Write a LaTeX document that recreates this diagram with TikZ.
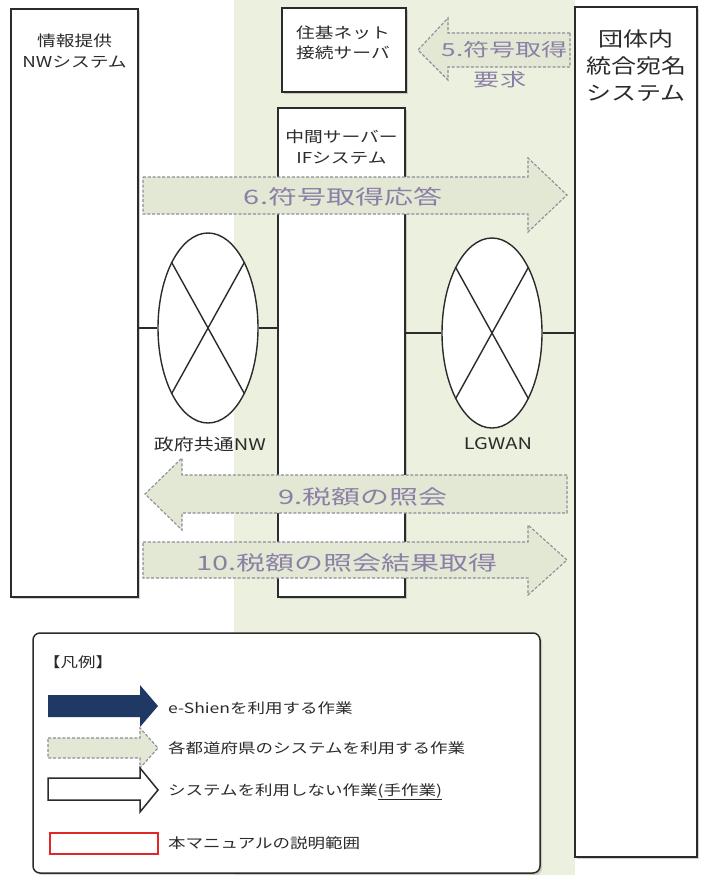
\documentclass[tikz,border=0pt]{standalone}
\usepackage{fontspec}
\newfontfamily\jp[FakeStretch=1.25]{Noto Sans CJK JP}
\newfontfamily\jpw[FakeStretch=1.45]{Noto Sans CJK JP}
\usetikzlibrary{shapes.geometric,shadows}
\definecolor{bggreen}{HTML}{EBF1DE}
\definecolor{arrfill}{HTML}{E3E8D5}
\definecolor{arrdash}{HTML}{8C8C9A}
\definecolor{arrtext}{HTML}{8A80A6}
\definecolor{navy}{HTML}{1F3864}
\definecolor{legred}{HTML}{E32626}
\definecolor{ink}{HTML}{2B2B2B}
\begin{document}
\begin{tikzpicture}[x=1pt,y=-1pt,
  sysbox/.style={draw=ink, line width=1.6pt, fill=white, inner sep=0pt,
    drop shadow={opacity=0.35,shadow xshift=2pt,shadow yshift=-2pt}},
  netell/.style={ellipse, draw=ink, line width=1.4pt, fill=white,
    minimum width=100pt, minimum height=190pt, inner sep=0pt},
  wire/.style={draw=ink, line width=1.4pt},
  flow/.style={draw=arrdash, fill=arrfill, line width=1.1pt,
    dash pattern=on 3pt off 1.8pt, line join=miter},
  flowtext/.style={text=arrtext, font=\jpw\fontsize{20}{24}\selectfont, inner sep=0pt},
  boxtext/.style={text=ink, font=\jp\fontsize{15}{20.5}\selectfont, align=center, inner sep=0pt},
  nettext/.style={text=ink, font=\jp\fontsize{16}{20}\selectfont, inner sep=0pt},
  legtext/.style={text=ink, font=\jp\fontsize{14}{16}\selectfont, anchor=west, inner sep=0pt},
]
\useasboundingbox (0,0) rectangle (704,880);
\fill[white] (0,0) rectangle (704,880);
\fill[bggreen] (234,0) rectangle (575,875);

% system boxes
\node[sysbox, minimum width=127pt, minimum height=588pt] (nwsys) at (74.5,303) {};
\node[boxtext] (nwsyslbl) at (74.5,51) {情報提供\\NWシステム};
\node[sysbox, minimum width=124pt, minimum height=84pt] (jukibox) at (344,50) {};
\node[boxtext] (jukilbl) at (343,43) {住基ネット\\接続サーバ};
\node[sysbox, minimum width=127pt, minimum height=489pt] (ifbox) at (341.5,352.5) {};
\node[boxtext] (iflbl) at (341.5,147) {中間サーバー\\IFシステム};
\node[sysbox, minimum width=122pt, minimum height=850pt] (dantai) at (636,432) {};
\node[boxtext, font=\jp\fontsize{20}{27}\selectfont] (dantailbl) at (636,66) {団体内\\統合宛名\\システム};

% networks
\node[netell] (govnw) at (208,328) {};
\node[netell] (lgwan) at (492,333) {};
\draw[wire] (govnw.61) -- (govnw.241);
\draw[wire] (govnw.119) -- (govnw.299);
\draw[wire] (lgwan.61) -- (lgwan.241);
\draw[wire] (lgwan.119) -- (lgwan.299);
\draw[wire] (nwsys.east |- govnw.west) -- (govnw.west);
\draw[wire] (govnw.east) -- (govnw.east -| ifbox.west);
\draw[wire] (ifbox.east |- lgwan.west) -- (lgwan.west);
\draw[wire] (lgwan.east) -- (lgwan.east -| dantai.west);
\node[nettext] (govlbl) at (210,444) {政府共通NW};
\node[nettext] (lgwanlbl) at (498,444) {LGWAN};

% flows
\draw[flow] (570,33) -- (448,33) -- (448,18) -- (418,50) -- (448,80) -- (448,67) -- (570,67) -- cycle;
\node[flowtext, font=\jpw\fontsize{18}{22}\selectfont] (f5a) at (505,50) {5.符号取得};
\node[flowtext, font=\jpw\fontsize{18}{22}\selectfont] (f5b) at (500,80) {要求};

\draw[flow] (143,177) -- (528,177) -- (528,158) -- (567,195) -- (528,232) -- (528,214) -- (143,214) -- cycle;
\node[flowtext] (f6) at (343,197) {6.符号取得応答};

\draw[flow] (567,475) -- (182,475) -- (182,458) -- (145,494) -- (182,530) -- (182,513) -- (567,513) -- cycle;
\node[flowtext] (f9) at (363,497) {9.税額の照会};

\draw[flow] (143,542) -- (528,542) -- (528,525) -- (567,560) -- (528,595) -- (528,578) -- (143,578) -- cycle;
\node[flowtext] (f10) at (347,563) {10.税額の照会結果取得};

% legend
\node[draw=ink, line width=1.5pt, rounded corners=7pt, fill=white,
  minimum width=507pt, minimum height=240pt, inner sep=0pt,
  drop shadow={opacity=0.3,shadow xshift=2pt,shadow yshift=-2pt}] (legend) at (286.5,753) {};
\node[legtext] (legtitle) at (43,662) {【凡例】};
\fill[navy] (48,695) -- (140,695) -- (140,685) -- (158,706) -- (140,727) -- (140,717) -- (48,717) -- cycle;
\node[legtext] (leg1) at (168,708) {e-Shienを利用する作業};
\draw[flow] (48,738) -- (140,738) -- (140,728) -- (158,748) -- (140,768) -- (140,758) -- (48,758) -- cycle;
\node[legtext] (leg2) at (168,748) {各都道府県のシステムを利用する作業};
\draw[draw=ink, fill=white, line width=1.5pt] (48,778) -- (140,778) -- (140,768) -- (158,790) -- (140,812) -- (140,800) -- (48,800) -- cycle;
\node[legtext] (leg3) at (168,792) {システムを利用しない作業\underline{(手作業)}};
\draw[draw=legred, line width=1.6pt] (50,833) rectangle (158,854);
\node[legtext] (leg4) at (168,843) {本マニュアルの説明範囲};
\end{tikzpicture}
\end{document}
